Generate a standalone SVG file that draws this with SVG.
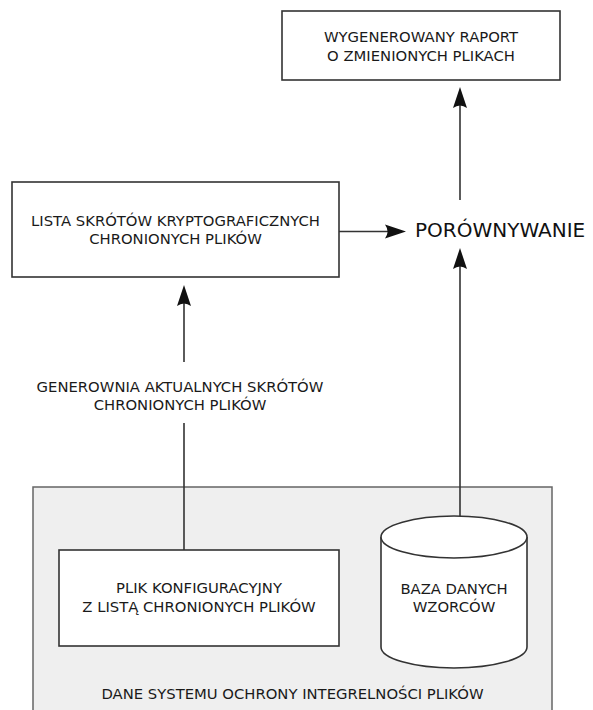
<svg xmlns="http://www.w3.org/2000/svg" width="593" height="710" viewBox="0 0 593 710">
  <style>
    .box { fill: #ffffff; stroke: #333333; stroke-width: 1.6; }
    .cont { fill: #efefef; stroke: #666666; stroke-width: 1.5; }
    .t { font-family: "DejaVu Sans", "Liberation Sans", sans-serif; font-size: 14.8px; fill: #1a1a1a; text-anchor: middle; }
    .big { font-family: "DejaVu Sans", "Liberation Sans", sans-serif; font-size: 20px; fill: #111111; }
    .conn { fill: none; stroke: #333333; stroke-width: 1.6; }
  </style>
  <defs>
    <marker id="arr" markerUnits="userSpaceOnUse" markerWidth="30" markerHeight="30" refX="5" refY="0" orient="auto" overflow="visible">
      <path d="M0,-7 L21,0 L0,7 Q5,0 0,-7 Z" fill="#111111"/>
    </marker>
  </defs>

  <g id="container">
    <rect class="cont" x="33" y="487" width="519" height="240"/>
    <text class="t" x="292.5" y="699">DANE SYSTEMU OCHRONY INTEGRELNOŚCI PLIKÓW</text>
  </g>

  <g id="report">
    <rect class="box" x="282" y="11" width="278" height="69"/>
    <text class="t" x="421" y="42">WYGENEROWANY RAPORT</text>
    <text class="t" x="421" y="61">O ZMIENIONYCH PLIKACH</text>
  </g>

  <g id="hashlist">
    <rect class="box" x="12" y="182" width="327" height="95"/>
    <text class="t" x="175.5" y="226">LISTA SKRÓTÓW KRYPTOGRAFICZNYCH</text>
    <text class="t" x="175.5" y="244">CHRONIONYCH PLIKÓW</text>
  </g>

  <g id="compare">
    <text class="big" x="415" y="237">PORÓWNYWANIE</text>
  </g>

  <g id="generator">
    <text class="t" x="180" y="392">GENEROWNIA AKTUALNYCH SKRÓTÓW</text>
    <text class="t" x="180" y="410">CHRONIONYCH PLIKÓW</text>
  </g>

  <g id="config">
    <rect class="box" x="59" y="550" width="280" height="96"/>
    <text class="t" x="199" y="593">PLIK KONFIGURACYJNY</text>
    <text class="t" x="199" y="612">Z LISTĄ CHRONIONYCH PLIKÓW</text>
  </g>

  <g id="database">
    <path class="box" d="M381,537 L381,647 A73,21 0 0 0 527,647 L527,537 A73,21 0 0 0 381,537 Z"/>
    <path class="box" d="M381,537 A73,21 0 0 0 527,537"/>
    <text class="t" x="454" y="594">BAZA DANYCH</text>
    <text class="t" x="454" y="612">WZORCÓW</text>
  </g>

  <g id="connectors">
    <path class="conn" d="M184,550 L184,423"/>
    <path class="conn" d="M184,362 L184,301" marker-end="url(#arr)"/>
    <path class="conn" d="M339,231.5 L390,231.5" marker-end="url(#arr)"/>
    <path class="conn" d="M460,516 L460,264" marker-end="url(#arr)"/>
    <path class="conn" d="M460,200 L460,103" marker-end="url(#arr)"/>
  </g>
</svg>
